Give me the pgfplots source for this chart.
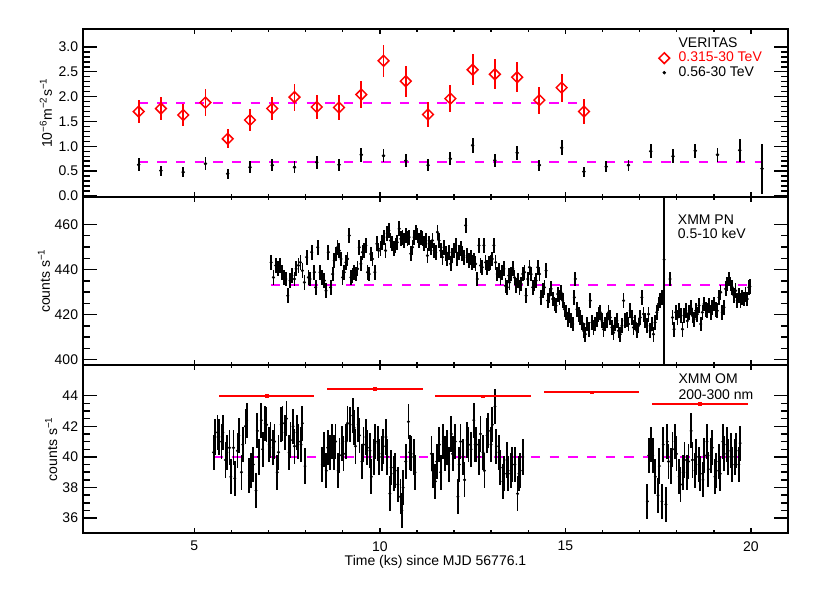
\documentclass[border=0pt]{standalone}
\usepackage{fontspec}
\setmainfont{Liberation Sans}
\usepackage{pgfplots}
\pgfplotsset{compat=1.18}
\definecolor{idlred}{RGB}{255,0,0}
\definecolor{idlmag}{RGB}{255,0,255}
\pgfplotsset{
  panel/.style={
    width=528.75pt, height=126pt, scale only axis,
    xmin=2, xmax=21,
    xtick={5,10,15,20}, minor x tick num=4,
    xtick pos=both, ytick pos=both,
    axis line style={line width=1.4pt},
    tick style={line width=1.1pt, black},
    tick align=inside,
    xtick style={/pgfplots/major tick length=3.75pt, /pgfplots/minor tick length=2.2pt},
    ytick style={/pgfplots/major tick length=10.5pt, /pgfplots/minor tick length=5.25pt},
    /pgf/number format/assume math mode=true,
    xticklabel style={yshift=-2.5pt},
  },
  mag/.style={idlmag, line width=1.1pt, dash pattern=on 7pt off 7pt, no marks, forget plot},
}
\begin{document}
\fontsize{10.5}{12.6}\selectfont
\begin{tikzpicture}
\useasboundingbox (-62.25pt,21.75pt) rectangle (560.25pt,-423pt);
% ---------------- top panel: VERITAS ----------------
\begin{axis}[panel, name=top, at={(0pt,0pt)}, anchor=north west,
  ymin=-0.02, ymax=3.36, ytick={0,0.5,1,1.5,2,2.5,3}, minor y tick num=4,
  yticklabel style={/pgf/number format/.cd, fixed, fixed zerofill, precision=1},
  xticklabels={},
  ylabel={10\textsuperscript{−6}m\textsuperscript{−2}s\textsuperscript{−1}},
  ylabel style={at={(axis description cs:-0.0525,0.5)}, anchor=center},
  legend style={draw=none, fill=none, at={(axis description cs:0.8076,0.966)}, anchor=north west,
    legend cell align=left, row sep=-2pt, inner sep=0pt},
]
\addplot[mag] coordinates {(3.5,1.87) (15.5,1.87)};
\addplot[mag] coordinates {(3.5,0.68) (20.3,0.68)};
\addlegendimage{legend image code/.code={\path (0cm,-4pt) (0.6cm,4pt);}}
\addlegendentry{VERITAS}
\addplot[idlred, only marks, mark=square, mark size=2.85pt,
  mark options={rotate=45, fill=white, line width=1.1pt, solid},
  error bars/.cd, y dir=both, y explicit, error mark=none,
  error bar style={line width=1.4pt, idlred}]
  table[x=x, y=y, y error=e, row sep=\\] {
x y e\\
3.5 1.70 0.23\\ 4.1 1.76 0.23\\ 4.7 1.63 0.23\\ 5.3 1.88 0.27\\ 5.9 1.15 0.19\\
6.5 1.53 0.23\\ 7.1 1.76 0.24\\ 7.7 1.99 0.27\\ 8.3 1.79 0.25\\ 8.9 1.78 0.25\\
9.5 2.04 0.27\\ 10.1 2.72 0.32\\ 10.7 2.31 0.31\\ 11.3 1.64 0.25\\ 11.9 1.96 0.27\\
12.5 2.54 0.31\\ 13.1 2.45 0.30\\ 13.7 2.39 0.30\\ 14.3 1.93 0.27\\ 14.9 2.18 0.28\\
15.5 1.70 0.26\\
};
\addlegendentry{\textcolor{idlred}{0.315-30 TeV}}
\addplot[black, only marks, mark=*, mark size=1.1pt,
  error bars/.cd, y dir=both, y explicit, error mark=none,
  error bar style={line width=1.4pt, black}]
  table[x=x, y=y, y error=e, row sep=\\] {
x y e\\
3.5 0.63 0.13\\ 4.1 0.51 0.10\\ 4.7 0.48 0.10\\ 5.3 0.65 0.13\\ 5.9 0.45 0.10\\
6.5 0.58 0.12\\ 7.1 0.62 0.12\\ 7.7 0.58 0.12\\ 8.3 0.68 0.13\\ 8.9 0.63 0.12\\
9.5 0.83 0.14\\ 10.1 0.81 0.13\\ 10.7 0.71 0.13\\ 11.3 0.62 0.12\\ 11.9 0.75 0.13\\
12.5 1.02 0.15\\ 13.1 0.72 0.13\\ 13.7 0.87 0.14\\ 14.3 0.62 0.11\\ 14.9 0.97 0.15\\
15.5 0.49 0.10\\ 16.1 0.59 0.11\\ 16.7 0.62 0.11\\ 17.3 0.90 0.14\\ 17.9 0.80 0.14\\
18.5 0.91 0.14\\ 19.1 0.83 0.14\\ 19.7 0.92 0.23\\ 20.3 0.55 0.50\\
};
\addlegendentry{0.56-30 TeV}
\end{axis}
% ---------------- middle panel: XMM PN ----------------
\begin{axis}[panel, name=mid, at={(top.south west)}, anchor=north west,
  ymin=397.6, ymax=472.2, ytick={400,420,440,460}, minor y tick num=3,
  xticklabels={},
  ylabel={counts s\textsuperscript{−1}},
  ylabel style={at={(axis description cs:-0.0553,0.5)}, anchor=center},
]
\addplot[mag] coordinates {(7.07,433.1) (19.97,433.1)};
\addplot[black, only marks, mark=*, mark size=0.95pt,
  error bars/.cd, y dir=both, y fixed=3.3, error mark=none,
  error bar style={line width=1.3pt, black}]
  table[row sep=\\] {
x y\\
7.070 443.2\\ 7.133 436.5\\ 7.196 441.8\\ 7.249 440.3\\ 7.303 441.8\\ 7.357 438.8\\
7.420 436.5\\ 7.465 435.8\\ 7.518 428.4\\ 7.581 435.1\\ 7.626 437.3\\ 7.698 435.8\\
7.742 440.3\\ 7.805 441.8\\ 7.859 443.2\\ 7.913 439.5\\ 7.966 434.3\\ 8.029 445.5\\
8.074 436.5\\ 8.119 435.8\\ 8.163 447.7\\ 8.235 438.8\\ 8.271 432.1\\ 8.325 449.9\\
8.387 438.8\\ 8.450 436.5\\ 8.504 435.1\\ 8.549 430.6\\ 8.611 447.7\\ 8.674 432.1\\
8.728 438.0\\ 8.773 444.0\\ 8.818 446.9\\ 8.862 449.9\\ 8.907 448.4\\ 8.952 444.7\\
8.997 436.5\\ 9.042 438.8\\ 9.086 443.2\\ 9.131 444.7\\ 9.176 455.1\\ 9.221 436.5\\
9.266 437.3\\ 9.310 438.8\\ 9.355 438.0\\ 9.400 440.3\\ 9.445 449.9\\ 9.490 442.5\\
9.534 447.7\\ 9.579 448.4\\ 9.624 450.7\\ 9.669 438.8\\ 9.714 438.0\\ 9.758 446.9\\
9.803 444.7\\ 9.866 438.8\\ 9.920 451.4\\ 9.965 448.4\\ 10.018 449.2\\ 10.063 452.1\\
10.108 454.4\\ 10.153 448.4\\ 10.198 455.9\\ 10.242 457.4\\ 10.287 452.9\\ 10.332 451.4\\
10.377 449.2\\ 10.421 450.7\\ 10.466 452.1\\ 10.520 458.1\\ 10.565 453.6\\ 10.610 454.4\\
10.654 452.9\\ 10.699 455.1\\ 10.744 453.6\\ 10.789 454.4\\ 10.834 447.0\\ 10.879 449.9\\
10.923 454.4\\ 10.968 456.6\\ 11.013 455.1\\ 11.058 452.9\\ 11.103 454.4\\ 11.147 453.6\\
11.192 451.4\\ 11.237 452.9\\ 11.282 446.2\\ 11.327 451.4\\ 11.371 449.9\\ 11.416 452.9\\
11.461 448.4\\ 11.506 447.7\\ 11.551 456.6\\ 11.595 452.9\\ 11.640 448.4\\ 11.685 445.5\\
11.730 449.9\\ 11.775 447.0\\ 11.819 444.7\\ 11.864 447.7\\ 11.909 442.5\\ 11.954 446.2\\
11.999 448.4\\ 12.043 450.7\\ 12.088 444.7\\ 12.133 447.7\\ 12.178 449.2\\ 12.223 447.0\\
12.267 445.5\\ 12.312 459.6\\ 12.357 446.2\\ 12.402 444.0\\ 12.447 445.5\\ 12.491 443.2\\
12.536 444.0\\ 12.581 442.5\\ 12.626 435.8\\ 12.671 450.7\\ 12.715 441.8\\ 12.760 441.0\\
12.805 450.7\\ 12.850 443.2\\ 12.895 441.0\\ 12.939 442.5\\ 12.984 443.2\\ 13.029 444.7\\
13.074 450.7\\ 13.119 443.2\\ 13.163 438.0\\ 13.208 439.5\\ 13.253 436.5\\ 13.298 438.8\\
13.343 440.3\\ 13.387 432.8\\ 13.432 432.1\\ 13.477 437.3\\
13.494 434.3\\ 13.539 438.0\\ 13.584 440.3\\ 13.629 436.5\\ 13.674 432.8\\ 13.718 435.1\\
13.763 432.1\\ 13.808 433.6\\ 13.853 438.0\\ 13.898 438.8\\ 13.942 428.4\\ 13.987 435.8\\
14.032 441.0\\ 14.077 438.0\\ 14.122 432.1\\ 14.166 433.6\\ 14.211 435.1\\ 14.256 441.0\\
14.301 438.0\\ 14.346 427.6\\ 14.390 430.6\\ 14.435 432.1\\ 14.480 439.5\\ 14.525 426.2\\
14.570 428.4\\ 14.614 431.4\\ 14.659 426.9\\ 14.704 424.7\\ 14.749 423.9\\ 14.794 429.1\\
14.839 427.6\\ 14.883 429.9\\ 14.928 426.2\\ 14.973 422.4\\ 15.018 421.0\\ 15.063 418.0\\
15.107 419.5\\ 15.152 417.2\\ 15.197 415.8\\ 15.242 427.6\\ 15.269 435.8\\ 15.313 422.4\\
15.358 420.2\\ 15.403 418.7\\ 15.448 416.5\\ 15.493 412.8\\ 15.537 411.3\\ 15.582 415.8\\
15.627 413.5\\ 15.672 426.2\\ 15.717 416.5\\ 15.761 414.3\\ 15.806 415.8\\ 15.851 418.0\\
15.896 420.2\\ 15.941 421.0\\ 15.985 417.2\\ 16.030 413.5\\ 16.075 415.8\\ 16.120 417.2\\
16.165 421.0\\ 16.209 418.7\\ 16.254 414.3\\ 16.299 412.0\\ 16.344 415.8\\ 16.389 417.2\\
16.434 412.8\\ 16.478 411.3\\ 16.523 415.0\\ 16.568 426.2\\ 16.613 417.2\\ 16.658 418.0\\
16.702 415.8\\ 16.747 421.7\\ 16.792 418.7\\ 16.837 414.3\\ 16.882 416.5\\ 16.926 412.8\\
16.971 415.0\\ 17.016 418.7\\ 17.061 427.6\\ 17.106 420.2\\ 17.150 417.2\\ 17.195 415.0\\
17.240 420.2\\ 17.285 412.8\\ 17.330 415.8\\ 17.374 411.3\\ 17.419 416.5\\ 17.464 421.0\\
17.509 424.7\\ 17.554 426.2\\ 17.598 427.6\\
17.822 435.8\\ 17.885 418.7\\ 17.930 413.5\\ 17.975 421.0\\ 18.020 418.7\\ 18.064 421.7\\
18.109 419.5\\ 18.154 413.5\\ 18.199 419.5\\ 18.244 421.7\\ 18.288 417.2\\ 18.333 421.0\\
18.378 423.2\\ 18.423 419.5\\ 18.468 418.0\\ 18.512 421.7\\ 18.557 420.2\\ 18.602 424.0\\
18.647 415.8\\ 18.692 421.0\\ 18.736 424.7\\ 18.781 422.4\\ 18.826 421.7\\ 18.871 424.0\\
18.916 421.0\\ 18.960 423.2\\ 19.005 424.7\\ 19.050 422.4\\ 19.095 421.7\\ 19.140 427.6\\
19.184 429.9\\ 19.229 421.0\\ 19.274 423.2\\ 19.319 431.4\\ 19.364 433.6\\ 19.408 435.8\\
19.453 433.6\\ 19.498 432.1\\ 19.543 428.4\\ 19.588 430.6\\ 19.632 426.2\\ 19.677 428.4\\
19.722 426.2\\ 19.767 427.6\\ 19.812 426.9\\ 19.856 429.1\\ 19.901 426.9\\ 19.946 432.1\\
19.973 432.4\\
};
\addplot[black, only marks, mark=*, mark size=0.9pt,
  error bars/.cd, y dir=both, y fixed=60, error mark=none,
  error bar style={line width=1.0pt, black}]
  coordinates {(17.66,444.4)};
\node[anchor=west, inner sep=0pt] at (rel axis cs:0.8435,0.864) {XMM PN};
\node[anchor=west, inner sep=0pt] at (rel axis cs:0.8435,0.784) {0.5-10 keV};
\end{axis}
% ---------------- bottom panel: XMM OM ----------------
\begin{axis}[panel, name=bot, at={(mid.south west)}, anchor=north west,
  ymin=35.03, ymax=46.0, ytick={36,38,40,42,44}, minor y tick num=3,
  xlabel={Time (ks) since MJD 56776.1},
  xlabel style={at={(axis description cs:0.5,-0.172)}, anchor=center},
  ylabel={counts s\textsuperscript{−1}},
  ylabel style={at={(axis description cs:-0.045,0.5)}, anchor=center},
]
\addplot[mag] coordinates {(5.52,40) (19.72,40)};
\addplot[black, only marks, mark=*, mark size=0.9pt,
  error bars/.cd, y dir=both, y fixed=1.15, error mark=none,
  error bar style={line width=1.35pt, black}]
  table[row sep=\\] {
x y\\
5.520 40.3\\ 5.556 41.3\\ 5.627 41.6\\ 5.663 41.3\\ 5.734 41.0\\ 5.770 41.6\\ 5.841 39.8\\
5.877 40.3\\ 5.948 40.6\\ 5.984 38.7\\ 6.056 40.6\\ 6.091 38.6\\ 6.163 40.4\\ 6.198 41.4\\
6.270 39.0\\ 6.305 40.8\\ 6.377 42.0\\ 6.413 42.4\\ 6.484 38.8\\ 6.520 39.1\\ 6.591 39.5\\
6.662 37.8\\ 6.698 41.7\\ 6.734 40.0\\ 6.805 42.4\\ 6.841 40.5\\ 6.912 42.2\\ 6.948 42.1\\
7.019 40.8\\ 7.055 41.1\\ 7.127 40.6\\ 7.162 41.0\\ 7.234 39.0\\ 7.269 40.3\\ 7.341 42.1\\
7.376 42.2\\ 7.448 41.6\\ 7.484 42.5\\ 7.555 40.3\\ 7.591 41.1\\ 7.662 42.0\\ 7.698 40.7\\
7.769 41.6\\ 7.805 41.0\\ 7.876 40.8\\ 7.912 42.2\\ 7.983 39.4\\
8.450 39.5\\ 8.486 40.5\\ 8.557 39.1\\ 8.593 40.6\\ 8.664 40.3\\ 8.700 41.0\\ 8.771 40.3\\
8.807 41.0\\ 8.878 39.1\\ 8.914 40.1\\ 8.986 40.9\\ 9.021 40.2\\ 9.093 41.0\\ 9.128 42.2\\
9.200 42.1\\ 9.271 42.7\\ 9.307 41.9\\ 9.343 40.7\\ 9.414 42.1\\ 9.450 41.4\\ 9.521 39.7\\
9.557 40.8\\ 9.628 41.3\\ 9.664 40.6\\ 9.735 40.4\\ 9.771 38.7\\ 9.842 40.0\\ 9.878 41.0\\
9.949 40.9\\ 9.985 40.0\\ 10.057 40.2\\ 10.092 40.7\\ 10.164 41.3\\ 10.199 40.0\\ 10.271 37.6\\
10.306 39.3\\ 10.378 38.9\\ 10.414 39.1\\ 10.485 38.2\\ 10.556 37.4\\ 10.592 36.5\\ 10.628 38.0\\
10.699 39.7\\ 10.771 42.3\\ 10.806 40.3\\ 10.842 40.2\\ 10.913 40.0\\ 10.949 39.0\\
11.390 40.2\\ 11.426 39.1\\ 11.497 38.4\\ 11.533 39.7\\ 11.604 40.8\\ 11.640 39.0\\ 11.711 41.0\\
11.747 40.2\\ 11.818 40.6\\ 11.854 39.5\\ 11.926 41.5\\ 11.961 40.2\\ 12.033 41.0\\ 12.104 37.4\\
12.140 39.5\\ 12.175 41.0\\ 12.247 40.0\\ 12.283 38.5\\ 12.354 41.1\\ 12.390 40.8\\ 12.461 40.5\\
12.532 42.4\\ 12.568 40.8\\ 12.604 40.8\\ 12.675 40.0\\ 12.711 41.5\\ 12.782 40.3\\ 12.818 39.1\\
12.889 41.4\\ 12.925 41.7\\ 12.997 40.8\\ 13.032 42.1\\ 13.104 43.3\\ 13.139 40.7\\ 13.211 40.3\\
13.246 39.3\\ 13.318 38.4\\ 13.354 38.9\\ 13.425 39.8\\ 13.461 38.9\\ 13.532 39.1\\ 13.568 39.5\\
13.639 39.5\\ 13.711 37.6\\ 13.746 38.9\\ 13.782 39.1\\ 13.853 40.0\\
17.210 37.1\\ 17.246 40.1\\ 17.317 40.8\\ 17.353 40.1\\ 17.424 38.7\\ 17.496 37.5\\ 17.531 39.4\\
17.603 37.1\\ 17.638 40.8\\ 17.710 36.9\\ 17.746 41.0\\ 17.781 39.7\\ 17.853 39.4\\ 17.888 40.5\\
17.960 41.0\\ 17.995 40.2\\ 18.067 38.7\\ 18.103 38.2\\ 18.174 39.0\\ 18.210 39.8\\ 18.281 39.0\\
18.317 39.7\\ 18.388 41.7\\ 18.424 39.8\\ 18.495 39.1\\ 18.531 40.0\\ 18.602 39.5\\ 18.638 38.9\\
18.709 38.5\\ 18.745 40.1\\ 18.817 41.0\\ 18.852 39.2\\ 18.924 40.1\\ 18.959 40.6\\ 19.031 38.7\\
19.066 39.1\\ 19.138 39.7\\ 19.174 38.9\\ 19.245 41.0\\ 19.281 40.2\\ 19.352 40.8\\ 19.388 40.0\\
19.459 40.4\\ 19.495 39.5\\ 19.566 40.0\\ 19.602 40.4\\ 19.673 39.5\\ 19.709 40.9\\
};
\addplot[idlred, only marks, mark=square*, mark size=1.1pt,
  error bars/.cd, x dir=both, x explicit, error mark=none,
  error bar style={line width=1.4pt, idlred}]
  table[x=x, y=y, x error=ex, row sep=\\] {
x y ex\\
6.945 43.98 1.29\\ 9.866 44.45 1.29\\ 12.777 43.96 1.29\\ 15.707 44.22 1.29\\ 18.620 43.46 1.29\\
};
\node[anchor=west, inner sep=0pt] at (rel axis cs:0.8444,0.917) {XMM OM};
\node[anchor=west, inner sep=0pt] at (rel axis cs:0.8444,0.822) {200-300 nm};
\end{axis}
\end{tikzpicture}
\end{document}
